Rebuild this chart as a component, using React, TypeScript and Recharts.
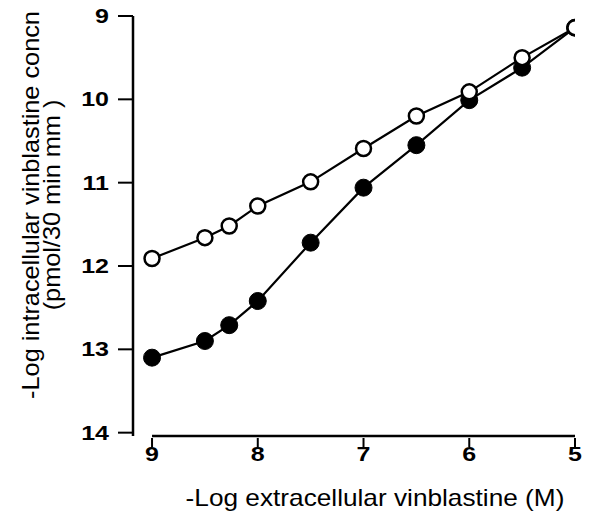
import React from "react";
import { LineChart, Line, XAxis, YAxis, ReferenceLine, Label } from "recharts";

const xValues = [9, 8.5, 8.27, 8, 7.5, 7, 6.5, 6, 5.5, 5];
const openSeries = [11.91, 11.66, 11.52, 11.28, 10.99, 10.59, 10.2, 9.91, 9.5, 9.14];
const filledSeries = [13.1, 12.9, 12.71, 12.42, 11.72, 11.06, 10.55, 10.01, 9.62, 9.14];
const xTicks = [9, 8, 7, 6, 5];
const yTicks = [9, 10, 11, 12, 13, 14];
const xTitle = "-Log extracellular vinblastine (M)";
const yTitle1 = "-Log intracellular vinblastine concn";
const yTitle2 = "(pmol/30 min mm  )";

const data = xValues.map((x, i) => ({ x, open: openSeries[i], filled: filledSeries[i] }));

const FONT = "'Liberation Sans', Arial, sans-serif";

const OpenDot = (p: any) => (
  <circle cx={p.cx} cy={p.cy} r={7.5} fill="#fff" stroke="#000" strokeWidth={2.5} />
);
const FilledDot = (p: any) => (
  <circle cx={p.cx} cy={p.cy} r={8.5} fill="#000" stroke="#000" strokeWidth={1} />
);

const XTick = (p: any) => (
  <text
    transform={`translate(${p.x},${p.y + 12}) scale(1.25,1)`}
    textAnchor="middle"
    fontSize={20}
    fontWeight="bold"
    fontFamily={FONT}
    fill="#000"
  >
    {p.payload.value}
  </text>
);

const YTick = (p: any) => (
  <text
    transform={`translate(${p.x},${p.y + 7}) scale(1.25,1)`}
    textAnchor="end"
    fontSize={20}
    fontWeight="bold"
    fontFamily={FONT}
    fill="#000"
  >
    {p.payload.value}
  </text>
);

export default function App() {
  return (
    <div style={{ position: "absolute", left: 0, top: 0, background: "#fff" }}>
      <LineChart
        width={589}
        height={516}
        data={data}
        margin={{ top: 16, right: 14, bottom: 0, left: 0 }}
      >
        <XAxis
          type="number"
          dataKey="x"
          domain={[5, 9.18]}
          reversed
          ticks={xTicks}
          allowDataOverflow
          axisLine={false}
          tickSize={9}
          tickMargin={4}
          tickLine={{ stroke: "#000", strokeWidth: 2, transform: "translate(0,2)" }}
          tick={<XTick />}
          height={80}
        >
          <Label
            content={() => (
              <text
                transform="translate(375,506) scale(1.14,1)"
                textAnchor="middle"
                fontSize={23}
                fontFamily={FONT}
                fill="#000"
              >
                {xTitle}
              </text>
            )}
          />
        </XAxis>
        <YAxis
          type="number"
          domain={[9, 14.04]}
          reversed
          ticks={yTicks}
          allowDataOverflow
          width={133}
          axisLine={{ stroke: "#000", strokeWidth: 2.5 }}
          tickSize={15}
          tickMargin={9}
          tickLine={{ stroke: "#000", strokeWidth: 2 }}
          tick={<YTick />}
        >
          <Label
            content={() => (
              <g>
                <text
                  transform="translate(39,205) rotate(-90) scale(1.1,1)"
                  textAnchor="middle"
                  fontSize={23}
                  fontFamily={FONT}
                  fill="#000"
                >
                  {yTitle1}
                </text>
                <text
                  transform="translate(60,205) rotate(-90) scale(1.1,1)"
                  textAnchor="middle"
                  fontSize={23}
                  fontFamily={FONT}
                  fill="#000"
                >
                  {yTitle2}
                </text>
              </g>
            )}
          />
        </YAxis>
        <ReferenceLine
          segment={[
            { x: 9, y: 14.04 },
            { x: 5, y: 14.04 },
          ]}
          stroke="#000"
          strokeWidth={2.5}
          ifOverflow="visible"
        />
        <Line
          dataKey="filled"
          stroke="#000"
          strokeWidth={2.2}
          dot={<FilledDot />}
          isAnimationActive={false}
        />
        <Line
          dataKey="open"
          stroke="#000"
          strokeWidth={2.2}
          dot={<OpenDot />}
          isAnimationActive={false}
        />
      </LineChart>
    </div>
  );
}
